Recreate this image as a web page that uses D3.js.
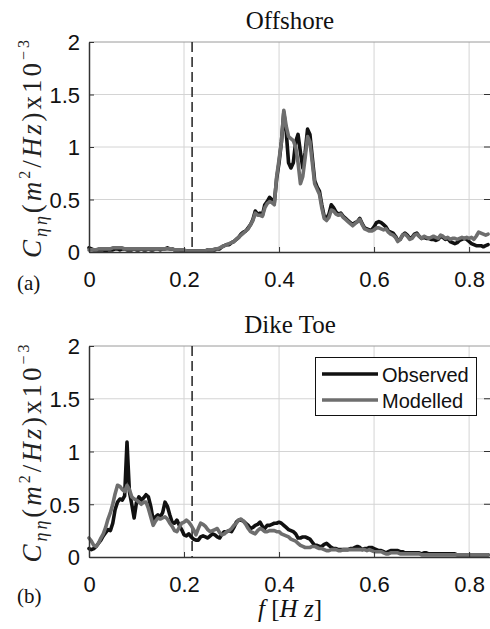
<!DOCTYPE html>
<html><head><meta charset="utf-8">
<script src="https://cdn.jsdelivr.net/npm/d3@7"></script>
<style>
html,body{margin:0;padding:0;background:#fff;}
svg{display:block;}
</style></head>
<body>
<svg id="chart" width="490" height="629"></svg>
<script>
// Frequency grid (Hz), 0.005 Hz resolution, 0 .. 0.84
const freq = d3.range(169).map(i => +(i * 0.005).toFixed(3));

// Panel (a) Offshore, values x10^-3 m^2/Hz
const offshoreObserved = [
0.04,0.03,0.02,0.02,0.02,0.02,0.02,0.01,0.02,0.02,
0.02,0.03,0.03,0.02,0.03,0.03,0.02,0.02,0.02,0.03,
0.02,0.02,0.03,0.02,0.02,0.03,0.02,0.02,0.03,0.03,
0.02,0.03,0.03,0.04,0.03,0.03,0.02,0.02,0.02,0.01,
0.01,0.01,0.01,0.01,0.01,0.01,0.01,0.01,0.01,0.01,
0.02,0.02,0.02,0.02,0.03,0.03,0.05,0.06,0.07,0.07,
0.09,0.10,0.12,0.14,0.17,0.19,0.20,0.23,0.26,0.31,
0.39,0.36,0.37,0.35,0.45,0.48,0.52,0.50,0.47,0.70,
0.85,1.05,1.33,1.15,0.85,0.80,0.85,1.05,1.12,0.95,
0.80,0.95,1.17,1.12,0.90,0.68,0.62,0.58,0.45,0.34,
0.32,0.36,0.45,0.42,0.38,0.36,0.37,0.34,0.32,0.30,
0.28,0.26,0.28,0.29,0.32,0.27,0.23,0.22,0.21,0.21,
0.24,0.28,0.29,0.28,0.26,0.24,0.20,0.19,0.18,0.15,
0.11,0.12,0.16,0.18,0.16,0.13,0.14,0.17,0.18,0.15,
0.13,0.14,0.13,0.13,0.12,0.12,0.11,0.12,0.15,0.14,
0.12,0.13,0.10,0.09,0.08,0.09,0.11,0.12,0.13,0.12,
0.10,0.08,0.07,0.06,0.06,0.06,0.05,0.06,0.07];
const offshoreModelled = [
0.02,0.02,0.02,0.02,0.03,0.03,0.03,0.03,0.03,0.03,
0.04,0.04,0.04,0.04,0.04,0.03,0.03,0.03,0.03,0.03,
0.03,0.03,0.03,0.03,0.03,0.03,0.03,0.03,0.03,0.03,
0.03,0.03,0.03,0.03,0.03,0.03,0.02,0.02,0.02,0.02,
0.02,0.01,0.01,0.01,0.01,0.01,0.01,0.01,0.01,0.01,
0.02,0.02,0.02,0.03,0.03,0.04,0.05,0.06,0.07,0.08,
0.09,0.10,0.12,0.14,0.16,0.18,0.20,0.22,0.26,0.30,
0.37,0.35,0.35,0.34,0.42,0.46,0.48,0.47,0.45,0.72,
0.88,1.05,1.35,1.20,1.10,1.08,1.06,1.00,0.85,0.65,
0.72,0.90,1.10,1.05,0.85,0.65,0.60,0.55,0.42,0.32,
0.30,0.33,0.40,0.39,0.36,0.35,0.36,0.33,0.31,0.29,
0.27,0.25,0.27,0.29,0.31,0.26,0.22,0.21,0.20,0.20,
0.21,0.23,0.23,0.22,0.21,0.22,0.19,0.17,0.16,0.14,
0.10,0.12,0.16,0.17,0.15,0.12,0.13,0.16,0.17,0.15,
0.13,0.15,0.14,0.13,0.14,0.15,0.14,0.13,0.16,0.15,
0.13,0.14,0.12,0.13,0.13,0.12,0.13,0.14,0.13,0.14,
0.13,0.14,0.12,0.15,0.19,0.18,0.17,0.16,0.17];

// Panel (b) Dike Toe
const dikeObserved = [
0.08,0.07,0.08,0.10,0.13,0.16,0.20,0.23,0.26,0.25,
0.32,0.45,0.52,0.55,0.54,0.58,1.09,0.62,0.50,0.37,
0.52,0.57,0.54,0.56,0.59,0.57,0.48,0.35,0.38,0.40,
0.38,0.42,0.52,0.48,0.40,0.33,0.32,0.35,0.30,0.26,
0.21,0.20,0.22,0.19,0.17,0.16,0.16,0.19,0.20,0.19,
0.18,0.20,0.22,0.21,0.19,0.18,0.22,0.24,0.24,0.25,
0.24,0.28,0.33,0.35,0.35,0.34,0.32,0.30,0.27,0.28,
0.30,0.31,0.33,0.29,0.27,0.30,0.30,0.31,0.32,0.32,
0.33,0.32,0.30,0.28,0.26,0.25,0.24,0.22,0.18,0.18,
0.19,0.19,0.18,0.17,0.14,0.11,0.11,0.10,0.10,0.12,
0.13,0.11,0.09,0.08,0.08,0.07,0.07,0.07,0.07,0.07,
0.08,0.08,0.09,0.10,0.09,0.07,0.08,0.08,0.09,0.09,
0.08,0.07,0.06,0.06,0.05,0.04,0.05,0.06,0.06,0.06,
0.06,0.05,0.05,0.04,0.04,0.04,0.04,0.04,0.04,0.04,
0.03,0.04,0.04,0.03,0.03,0.03,0.03,0.03,0.03,0.03,
0.03,0.03,0.03,0.03,0.03,0.02,0.02,0.02,0.02,0.02,
0.02,0.02,0.02,0.02,0.02,0.02,0.02,0.02,0.02];
const dikeModelled = [
0.18,0.15,0.11,0.10,0.13,0.18,0.22,0.28,0.36,0.42,
0.50,0.60,0.68,0.67,0.64,0.62,0.68,0.64,0.57,0.55,
0.54,0.52,0.50,0.52,0.52,0.46,0.38,0.30,0.34,0.37,
0.36,0.37,0.38,0.36,0.32,0.29,0.25,0.24,0.28,0.32,
0.33,0.35,0.33,0.30,0.26,0.21,0.27,0.32,0.31,0.29,
0.26,0.24,0.25,0.26,0.27,0.23,0.21,0.22,0.24,0.25,
0.27,0.30,0.32,0.35,0.36,0.34,0.31,0.27,0.24,0.23,
0.22,0.25,0.27,0.26,0.24,0.24,0.25,0.25,0.25,0.24,
0.24,0.22,0.21,0.20,0.19,0.17,0.16,0.15,0.13,0.11,
0.10,0.09,0.09,0.09,0.10,0.10,0.09,0.08,0.08,0.07,
0.06,0.06,0.07,0.07,0.07,0.06,0.06,0.07,0.07,0.07,
0.07,0.07,0.07,0.07,0.07,0.07,0.07,0.06,0.07,0.06,
0.05,0.05,0.05,0.05,0.04,0.03,0.03,0.04,0.04,0.04,
0.04,0.03,0.03,0.03,0.03,0.03,0.03,0.03,0.03,0.03,
0.02,0.02,0.02,0.02,0.02,0.02,0.02,0.02,0.02,0.02,
0.02,0.02,0.02,0.02,0.02,0.02,0.02,0.02,0.02,0.02,
0.02,0.02,0.02,0.02,0.02,0.02,0.02,0.02,0.02];

const xTicks = [0, 0.2, 0.4, 0.6, 0.8];
const yTicks = [0, 0.5, 1, 1.5, 2];
const xTickLabels = ["0", "0.2", "0.4", "0.6", "0.8"];
const yTickLabels = ["0", "0.5", "1", "1.5", "2"];
const cutoffFreq = 0.217;
const seriesNames = ["Observed", "Modelled"];
const panelTitles = ["Offshore", "Dike Toe"];
const panelLetters = ["(a)", "(b)"];

const colors = {Observed: "#111111", Modelled: "#6e6e6e"};
const svg = d3.select("#chart");

const x = d3.scaleLinear().domain([0, 0.844]).range([89, 490]);

const panels = [
  {title: panelTitles[0], letter: panelLetters[0], obs: offshoreObserved, mod: offshoreModelled, top: 42, bottom: 252, titleY: 29, tickY: 287, letterY: 290, legend: false},
  {title: panelTitles[1], letter: panelLetters[1], obs: dikeObserved, mod: dikeModelled, top: 346, bottom: 557, titleY: 333, tickY: 592, letterY: 603, legend: true}
];

const serif = "'Liberation Serif','DejaVu Serif',serif";
const sans = "'Liberation Sans',Arial,sans-serif";

panels.forEach(p => {
  const y = d3.scaleLinear().domain([0, 2]).range([p.bottom, p.top]);
  const g = svg.append("g");

  // grid
  g.append("g").selectAll("line").data(xTicks.filter(t => t > 0)).join("line")
    .attr("x1", d => x(d)).attr("x2", d => x(d)).attr("y1", p.top).attr("y2", p.bottom)
    .attr("stroke", "#d4d4d4").attr("stroke-width", 1);
  g.append("g").selectAll("line").data(yTicks.filter(t => t > 0)).join("line")
    .attr("x1", x(0)).attr("x2", 490).attr("y1", d => y(d)).attr("y2", d => y(d))
    .attr("stroke", d => d === 2 ? "#9a9a9a" : "#d4d4d4").attr("stroke-width", 1);

  // dashed cutoff
  g.append("line").attr("x1", x(cutoffFreq)).attr("x2", x(cutoffFreq))
    .attr("y1", p.top).attr("y2", p.bottom)
    .attr("stroke", "#222").attr("stroke-width", 1.5).attr("stroke-dasharray", "10,5");

  // lines
  const line = d3.line().x((d, i) => x(freq[i])).y(d => y(d)).curve(d3.curveLinear);
  [["Observed", p.obs], ["Modelled", p.mod]].forEach(([name, vals]) => {
    g.append("path").datum(vals).attr("d", line)
      .attr("fill", "none").attr("stroke", colors[name]).attr("stroke-width", 3.6)
      .attr("stroke-linejoin", "round").attr("stroke-linecap", "round");
  });

  // axes
  const xAxis = d3.axisBottom(x).tickValues(xTicks).tickSizeInner(-5).tickSizeOuter(0)
    .tickFormat((d, i) => xTickLabels[i]).tickPadding(14);
  const xa = g.append("g").attr("transform", `translate(0,${p.bottom})`).call(xAxis);
  xa.select(".domain").attr("stroke", "#333").attr("stroke-width", 1.5);
  xa.selectAll(".tick line").attr("stroke", "#333");
  xa.selectAll("text").attr("font-family", sans).attr("font-size", 22).attr("fill", "#111")
    .attr("dy", null).attr("y", p.tickY - p.bottom);

  const yAxis = d3.axisLeft(y).tickValues(yTicks).tickSizeInner(-5).tickSizeOuter(0)
    .tickFormat((d, i) => yTickLabels[i]).tickPadding(9);
  const ya = g.append("g").attr("transform", `translate(${x(0)},0)`).call(yAxis);
  ya.select(".domain").attr("stroke", "#333").attr("stroke-width", 1.5);
  ya.selectAll(".tick line").attr("stroke", "#333");
  ya.selectAll("text").attr("font-family", sans).attr("font-size", 22).attr("fill", "#111")
    .attr("dy", "0.36em");

  // right-side ticks
  g.append("g").selectAll("line").data(yTicks.filter(t => t > 0 && t < 2)).join("line")
    .attr("x1", 484).attr("x2", 490).attr("y1", d => y(d)).attr("y2", d => y(d))
    .attr("stroke", "#333");

  // title
  svg.append("text").attr("x", 290).attr("y", p.titleY).attr("text-anchor", "middle")
    .attr("font-family", serif).attr("font-size", 25).attr("fill", "#111").text(p.title);

  // letter
  svg.append("text").attr("x", 17).attr("y", p.letterY)
    .attr("font-family", serif).attr("font-size", 21).attr("fill", "#111").text(p.letter);

  // y label
  const cy = (p.top + p.bottom) / 2 + 2;
  const lab = svg.append("text").attr("transform", `translate(41,${cy}) rotate(-90)`)
    .attr("text-anchor", "middle").attr("font-family", serif).attr("font-size", 27).attr("fill", "#222")
    .attr("textLength", 218).attr("lengthAdjust", "spacing");
  lab.append("tspan").attr("font-style", "italic").text("C");
  lab.append("tspan").attr("font-style", "italic").attr("font-size", 18).attr("dy", 6).text("ηη");
  lab.append("tspan").attr("dy", -6).text("(");
  lab.append("tspan").attr("font-style", "italic").text("m");
  lab.append("tspan").attr("font-size", 16).attr("dy", -11).text("2");
  lab.append("tspan").attr("dy", 11).text("/");
  lab.append("tspan").attr("font-style", "italic").text("Hz");
  lab.append("tspan").text(")x10");
  lab.append("tspan").attr("font-size", 16).attr("dy", -12).text("−3");

  if (p.legend) {
    const lg = svg.append("g");
    lg.append("rect").attr("x", 315.5).attr("y", 357.5).attr("width", 161).attr("height", 58)
      .attr("fill", "#fff").attr("stroke", "#111").attr("stroke-width", 1);
    seriesNames.forEach((name, i) => {
      const ly = 374 + i * 26;
      lg.append("line").attr("x1", 322).attr("x2", 378).attr("y1", ly).attr("y2", ly)
        .attr("stroke", colors[name]).attr("stroke-width", 3.6);
      lg.append("text").attr("x", 382).attr("y", ly + 8).attr("font-family", sans)
        .attr("font-size", 20).attr("fill", "#111").text(name);
    });
  }
});

// x label
const xl = svg.append("text").attr("x", 290).attr("y", 617).attr("text-anchor", "middle")
  .attr("font-family", serif).attr("font-size", 25).attr("fill", "#111");
xl.append("tspan").attr("font-style", "italic").text("f");
xl.append("tspan").text(" [");
xl.append("tspan").attr("font-style", "italic").text("H z");
xl.append("tspan").text("]");
</script>
</body></html>
